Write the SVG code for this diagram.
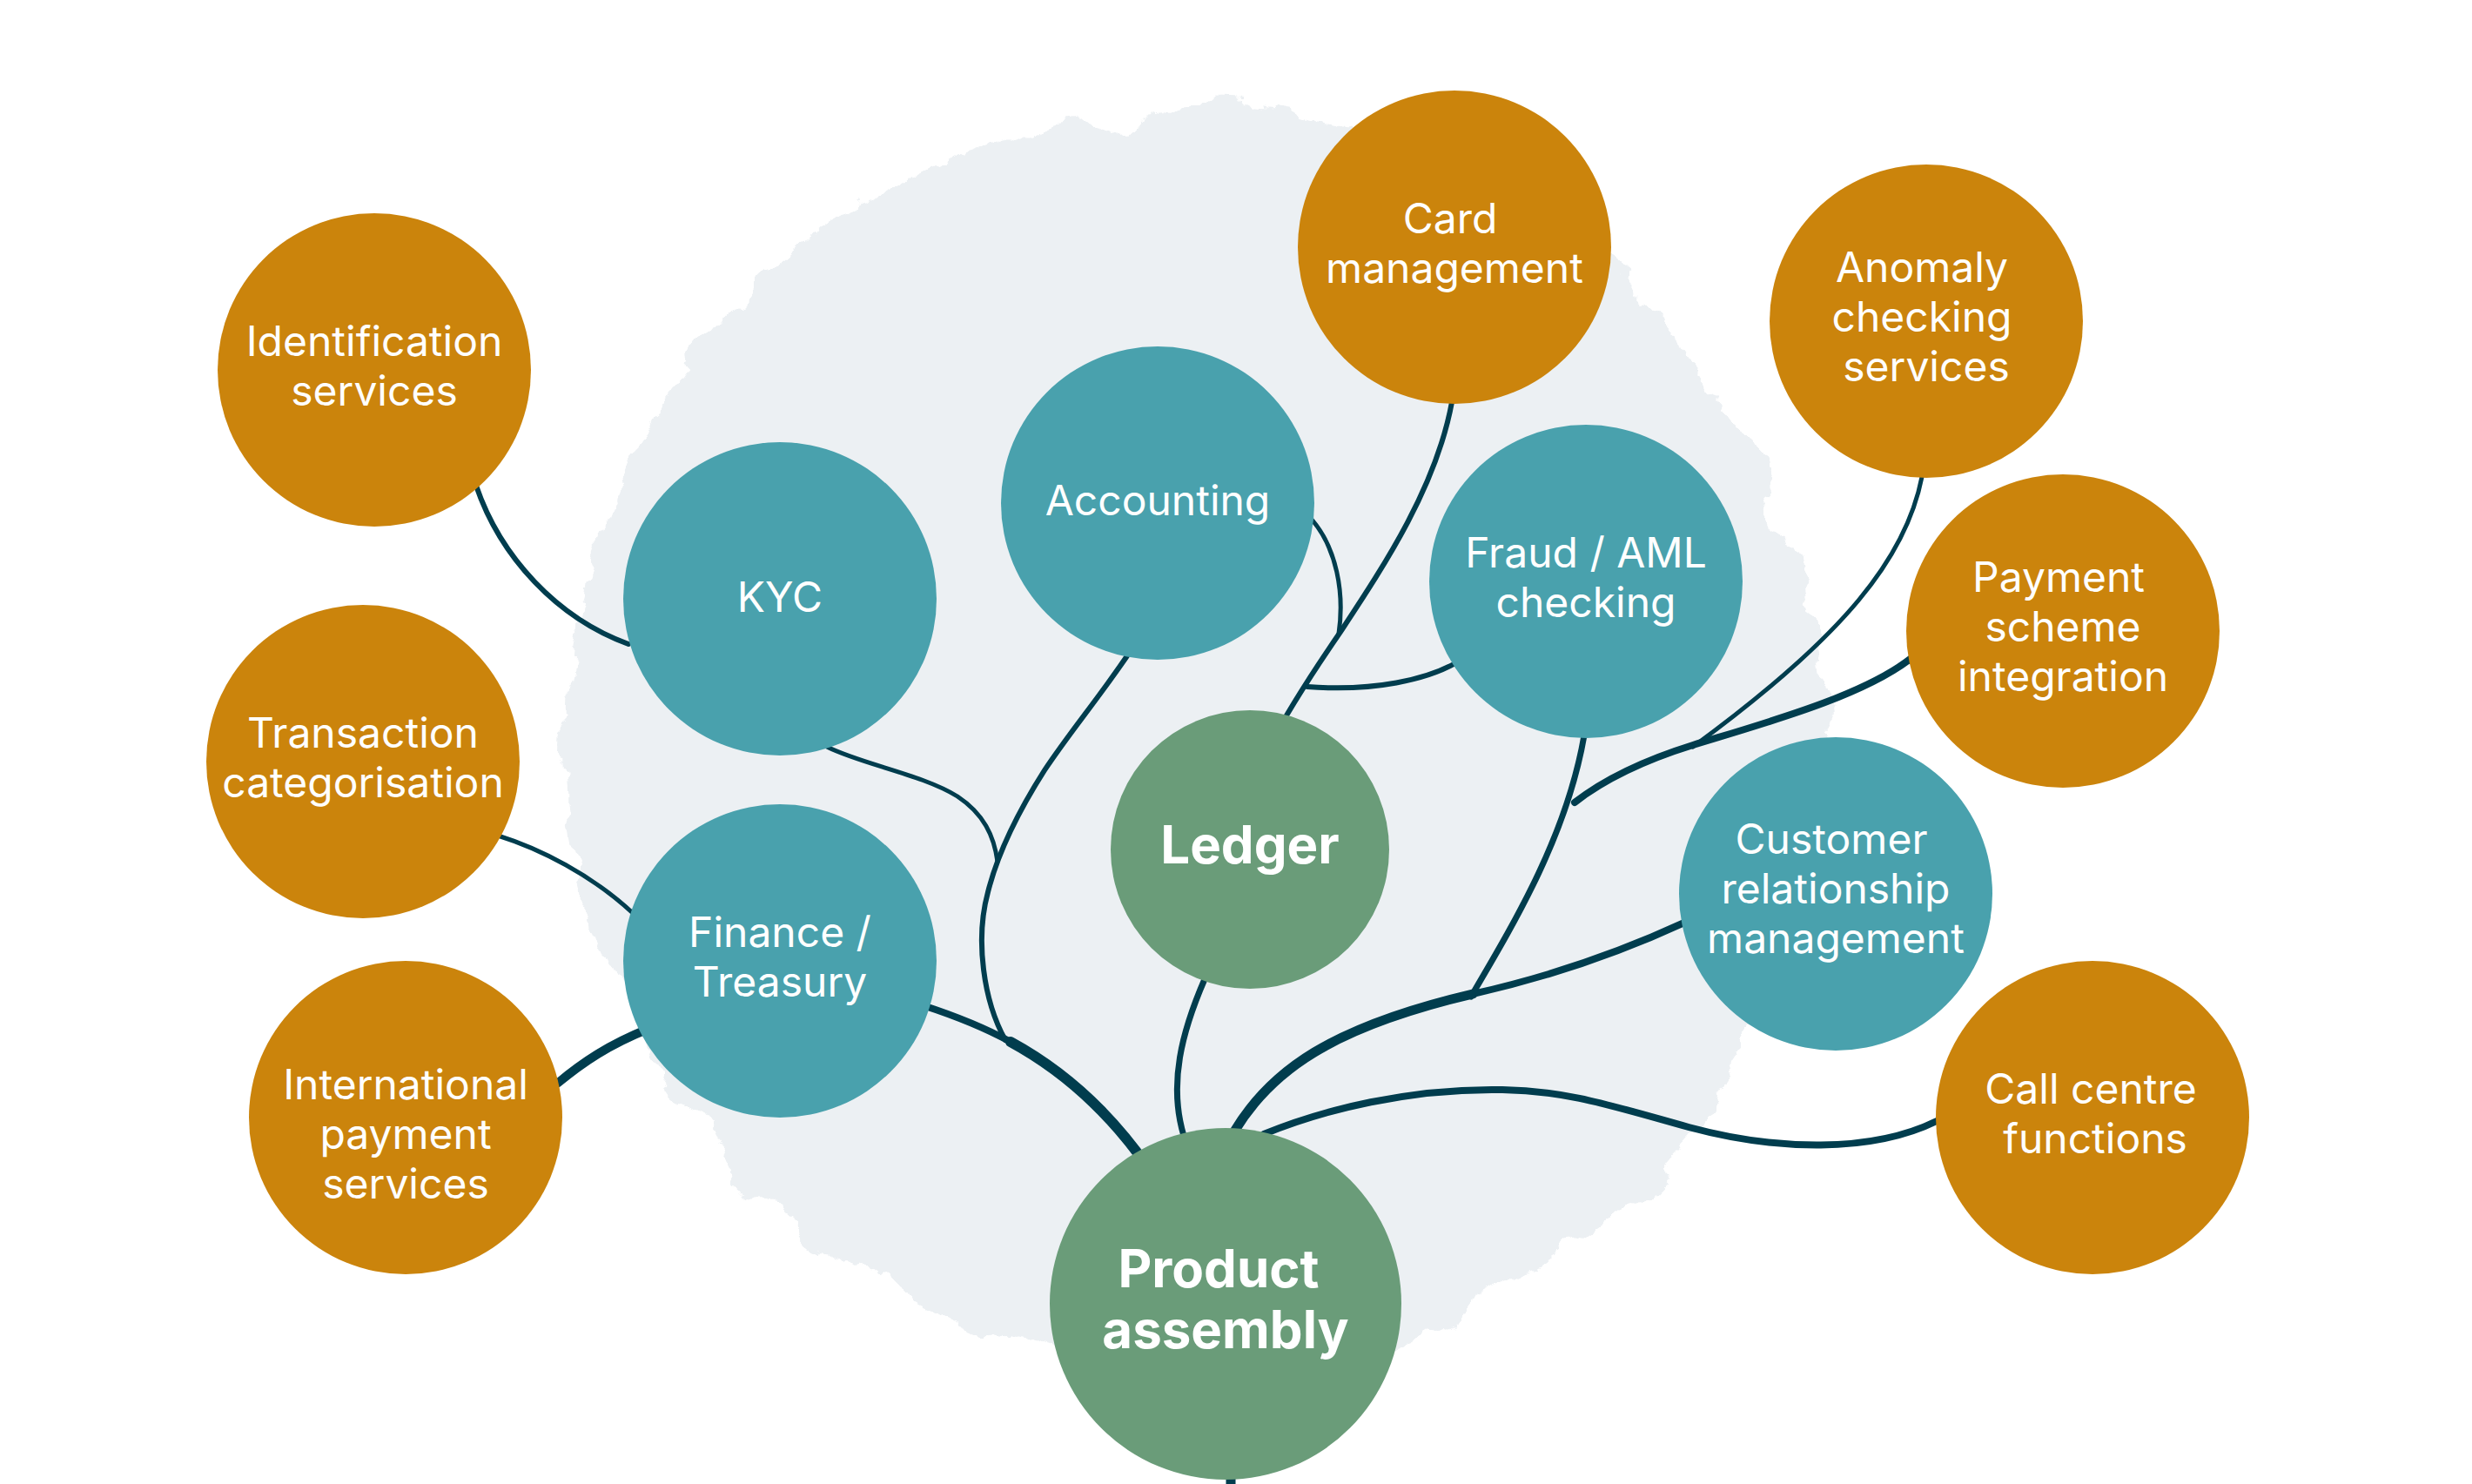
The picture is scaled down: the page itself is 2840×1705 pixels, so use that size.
<svg xmlns="http://www.w3.org/2000/svg" width="2840" height="1705" viewBox="0 0 2840 1705">
  <defs>
    <filter id="rough" x="-15%" y="-15%" width="130%" height="130%">
      <feTurbulence type="fractalNoise" baseFrequency="0.012" numOctaves="5" seed="7" result="n"/>
      <feDisplacementMap in="SourceGraphic" in2="n" scale="70" xChannelSelector="R" yChannelSelector="G"/>
    </filter>
    <style>
      .orange { fill: #CB840C; }
      .teal { fill: #49A1AD; }
      .green { fill: #6A9C79; }
      .lbl { font-family: Inter, "Liberation Sans", sans-serif; font-size: 48px; fill: #FFFFFF; text-anchor: middle; }
      .bold { font-family: Inter, "Liberation Sans", sans-serif; font-size: 60px; font-weight: 700; fill: #FFFFFF; text-anchor: middle; }
      .c { fill: none; stroke: #013D4E; stroke-linecap: round; stroke-linejoin: round; }
    </style>
  </defs>
  <rect width="2840" height="1705" fill="#FFFFFF"/>
  <g id="background">
    <circle cx="1376" cy="852" r="724" fill="#ECF0F3" filter="url(#rough)"/>
  </g>
  <g id="connectors">
    <path class="c" stroke-width="11" d="M1414,1680 L1414,1710"/>
    <path class="c" stroke-width="12" d="M1318,1340 C1290,1300 1240,1240 1161,1197"/>
    <path class="c" stroke-width="8" d="M1161,1197 C1130,1180 1100,1168 1060,1155"/>
    <path class="c" stroke-width="10" d="M745,1182 C700,1200 670,1220 640,1245"/>
    <path class="c" stroke-width="6" d="M1155,1195 C1130,1150 1120,1080 1135,1025 C1145,985 1165,940 1200,885 C1230,840 1260,805 1296,752"/>
    <path class="c" stroke-width="5" d="M950,858 C990,878 1060,890 1100,915 C1130,935 1142,960 1146,990"/>
    <path class="c" stroke-width="6" d="M547,558 C575,640 640,710 722,740"/>
    <path class="c" stroke-width="5" d="M572,960 C620,975 680,1005 728,1050"/>
    <path class="c" stroke-width="7" d="M1384,1125 C1358,1185 1342,1245 1360,1305"/>
    <path class="c" stroke-width="6" d="M1478,822 C1500,785 1520,755 1540,726 C1590,650 1650,560 1668,462"/>
    <path class="c" stroke-width="5" d="M1508,598 C1535,630 1545,680 1538,728"/>
    <path class="c" stroke-width="6" d="M1672,762 C1640,780 1580,795 1502,789"/>
    <path class="c" stroke-width="11" d="M1418,1300 C1460,1230 1530,1180 1692,1142"/>
    <path class="c" stroke-width="8" d="M1692,1142 C1790,1120 1870,1090 1935,1060"/>
    <path class="c" stroke-width="7" d="M1690,1145 C1740,1060 1800,960 1820,845"/>
    <path class="c" stroke-width="8" d="M1809,922 C1850,890 1900,870 1945,856 C2030,830 2140,800 2196,756"/>
    <path class="c" stroke-width="5" d="M2208,548 C2190,640 2120,730 1945,858"/>
    <path class="c" stroke-width="8" d="M1452,1303 C1520,1275 1620,1250 1726,1252 C1800,1253 1850,1270 1940,1295 C2040,1322 2150,1325 2225,1288"/>
  </g>
  <g id="node-identification">
    <circle class="orange" cx="430" cy="425" r="180"/>
    <text class="lbl" x="430" y="409">Identification</text>
    <text class="lbl" x="430" y="466">services</text>
  </g>
  <g id="node-kyc">
    <circle class="teal" cx="896" cy="688" r="180"/>
    <text class="lbl" x="896" y="703">KYC</text>
  </g>
  <g id="node-accounting">
    <circle class="teal" cx="1330" cy="578" r="180"/>
    <text class="lbl" x="1330" y="592">Accounting</text>
  </g>
  <g id="node-card">
    <circle class="orange" cx="1671" cy="284" r="180"/>
    <text class="lbl" x="1666" y="268">Card</text>
    <text class="lbl" x="1671" y="325">management</text>
  </g>
  <g id="node-anomaly">
    <circle class="orange" cx="2213" cy="369" r="180"/>
    <text class="lbl" x="2208" y="324">Anomaly</text>
    <text class="lbl" x="2208" y="381">checking</text>
    <text class="lbl" x="2213" y="438">services</text>
  </g>
  <g id="node-fraud">
    <circle class="teal" cx="1822" cy="668" r="180"/>
    <text class="lbl" x="1822" y="652">Fraud / AML</text>
    <text class="lbl" x="1822" y="709">checking</text>
  </g>
  <g id="node-payment">
    <circle class="orange" cx="2370" cy="725" r="180"/>
    <text class="lbl" x="2365" y="680">Payment</text>
    <text class="lbl" x="2370" y="737">scheme</text>
    <text class="lbl" x="2370" y="794">integration</text>
  </g>
  <g id="node-transaction">
    <circle class="orange" cx="417" cy="875" r="180"/>
    <text class="lbl" x="417" y="859">Transaction</text>
    <text class="lbl" x="417" y="916">categorisation</text>
  </g>
  <g id="node-finance">
    <circle class="teal" cx="896" cy="1104" r="180"/>
    <text class="lbl" x="896" y="1088">Finance /</text>
    <text class="lbl" x="896" y="1145">Treasury</text>
  </g>
  <g id="node-ledger">
    <circle class="green" cx="1436" cy="976" r="160"/>
    <text class="bold" x="1436" y="992">Ledger</text>
  </g>
  <g id="node-crm">
    <circle class="teal" cx="2109" cy="1027" r="180"/>
    <text class="lbl" x="2104" y="981">Customer</text>
    <text class="lbl" x="2109" y="1038">relationship</text>
    <text class="lbl" x="2109" y="1095">management</text>
  </g>
  <g id="node-international">
    <circle class="orange" cx="466" cy="1284" r="180"/>
    <text class="lbl" x="466" y="1263">International</text>
    <text class="lbl" x="466" y="1320">payment</text>
    <text class="lbl" x="466" y="1377">services</text>
  </g>
  <g id="node-callcentre">
    <circle class="orange" cx="2404" cy="1284" r="180"/>
    <text class="lbl" x="2402" y="1268">Call centre</text>
    <text class="lbl" x="2407" y="1325">functions</text>
  </g>
  <g id="node-product">
    <circle class="green" cx="1408" cy="1498" r="202"/>
    <text class="bold" x="1400" y="1479">Product</text>
    <text class="bold" x="1408" y="1549">assembly</text>
  </g>
</svg>
